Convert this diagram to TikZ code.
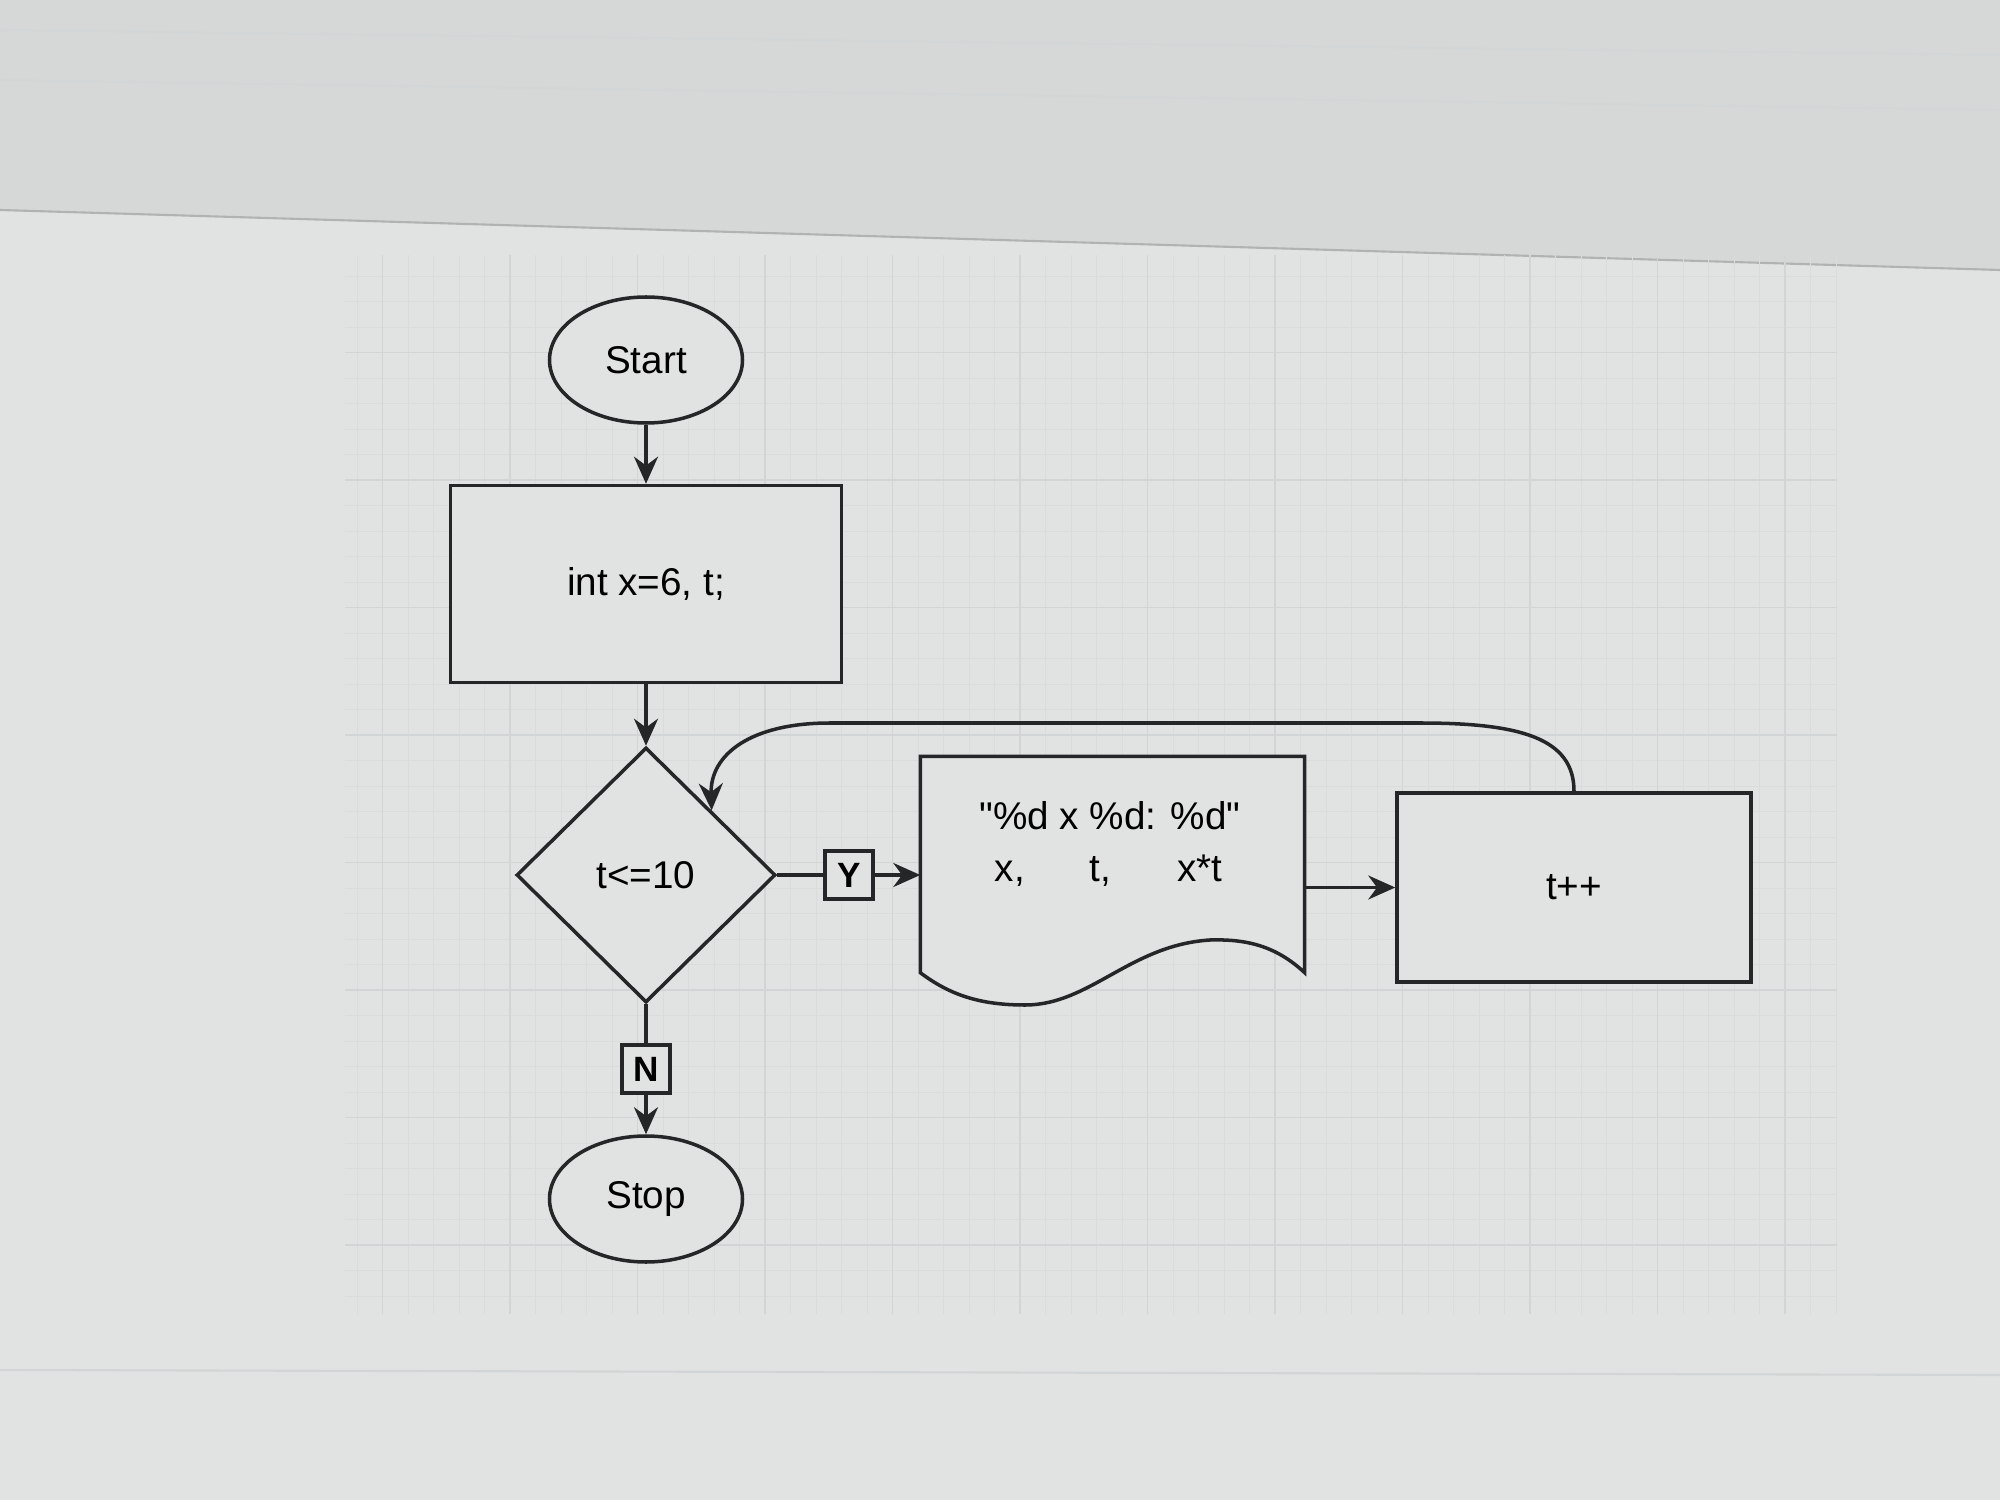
\documentclass[tikz,border=0pt]{standalone}
\usepackage{fontspec}
\setmainfont{Liberation Sans}
\usetikzlibrary{shapes.geometric}
\usetikzlibrary{arrows.meta}
\definecolor{canvas}{RGB}{225,227,227}
\definecolor{bezel}{RGB}{214,216,216}
\definecolor{gridln}{RGB}{210,213,213}
\definecolor{ink}{RGB}{36,38,40}
\tikzset{
	term/.style={draw=ink,ellipse,line width=1pt,fill=canvas,minimum width=1.93cm,minimum height=1.26cm,inner sep=0pt}
}
\tikzset{
	proc/.style={draw=ink,rectangle,line width=1pt,fill=canvas,inner sep=0pt}
}
\tikzset{
	cond/.style={draw=ink,diamond,line width=1pt,fill=canvas,minimum width=2.59cm,minimum height=2.55cm,inner sep=0pt}
}
\tikzset{
	lbl/.style={draw=ink,line width=1pt,fill=canvas,minimum size=0.48cm,inner sep=0pt,font=\bfseries\fontsize{10}{12}\selectfont}
}
\tikzset{
	arr/.style={draw=ink,line width=1pt,-{Stealth[length=2.7mm,width=2.4mm]}}
}

\begin{document}
\begin{tikzpicture}[font=\fontsize{11}{15}\selectfont]
	\useasboundingbox (0,0) rectangle (20,15);
	%background of the photographed screen
	\fill[canvas] (0,0) rectangle (20,15);
	\fill[bezel] (0,12.9) -- (20,12.3) -- (20,15) -- (0,15) -- cycle;
	\draw[gridln!70!bezel,line width=0.6pt] (0,14.7) -- (20,14.45);
	\draw[gridln!70!bezel,line width=0.6pt] (0,14.2) -- (20,13.9);
	\draw[gridln!80!black!90,line width=0.6pt] (0,12.9) -- (20,12.3);
	\draw[gridln!50!canvas,line width=0.2pt,step=0.255] (3.45,1.86) grid (18.37,12.45);
	\draw[gridln,line width=0.4pt,step=1.275] (3.45,1.86) grid (18.37,12.45);
	\draw[gridln,line width=0.6pt] (0,1.3) -- (20,1.25);
	%shapes
	\node[term] (start) at (6.46,11.40) {Start};
	\node[proc,minimum width=3.91cm,minimum height=1.97cm] (init) at (6.46,9.16) {int x=6, t;};
	\node[cond] (test) at (6.46,6.25) {t<=10};
	\node[term] (stop) at (6.46,3.01) {Stop};
	\node[minimum width=3.83cm,minimum height=2.15cm,inner sep=0pt] (doc) at (11.125,6.355) {};
	\fill[canvas,draw=ink,line width=1pt] (doc.north west) -- (doc.north east) -- (doc.south east)
		.. controls (12.75,5.55) and (12.45,5.61) .. (12.1,5.6)
		.. controls (11.3,5.55) and (10.9,4.95) .. (10.25,4.95)
		.. controls (9.8,4.95) and (9.5,5.05) .. (doc.south west) -- cycle;
	\node[align=center] (doctxt) at (11.1,6.56) {\textquotedbl\%d x \%d: \%d\textquotedbl\\\makebox[0.9cm]{x,}\makebox[0.9cm]{t,}\makebox[1.1cm]{x*t}};
	\node[proc,minimum width=3.54cm,minimum height=1.89cm] (inc) at (15.74,6.125) {t++};
	%connectors
	\draw[arr] (start) -- (init);
	\draw[arr] (init) -- (test);
	\draw[arr] (test.east) -- (test.east -| doc.west) node[lbl,midway] (ylbl) {Y};
	\draw[arr] (test.south) -- (stop.north) node[lbl,midway] (nlbl) {N};
	\draw[arr] (doc.east |- inc.west) -- (inc.west);
	\draw[arr] (inc.north) .. controls (15.74,7.62) and (15.2,7.77) .. (14.2,7.77) -- (8.3,7.77)
		.. controls (7.5,7.77) and (7.1,7.45) .. (test.north east);
\end{tikzpicture}
\end{document}
